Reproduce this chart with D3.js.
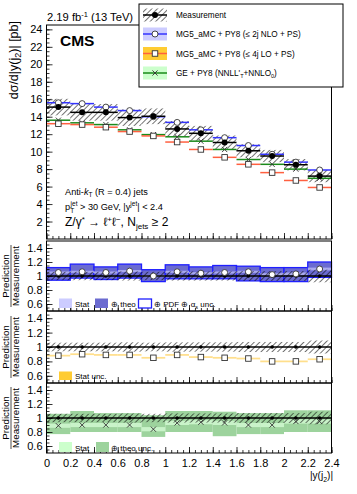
<!DOCTYPE html>
<html>
<head>
<meta charset="utf-8">
<script src="https://d3js.org/d3.v7.min.js"></script>
<style>
  body { margin:0; background:#fff; }
  text { font-family:"Liberation Sans", Arial, sans-serif; fill:#000; }
</style>
</head>
<body>
<script>

/*
	Data
 */

var binEdges = [0,0.2,0.4,0.6,0.8,1.0,1.2,1.4,1.6,1.8,2.0,2.2,2.4];

var measured    = [15.1,14.5,14.5,13.9,14.05,12.6,12.1,11.05,10.1,9.5,8.5,7.2];
var measuredErr = [0.95,0.95,0.95,0.95,0.9,0.9,0.85,0.8,0.75,0.7,0.65,0.7];
var nloMain = [15.6,15.5,15.1,14.7,14.0,13.35,12.5,11.6,10.7,9.7,8.8,7.9];
var loMain  = [13.2,13.1,12.8,12.3,11.8,11.1,10.25,9.35,8.55,7.6,6.7,5.9];
var geMain  = [13.6,13.3,13.1,12.5,11.95,11.7,11.2,10.25,9.1,8.55,8.0,6.95];

var measRatioErr = [0.06,0.06,0.06,0.065,0.06,0.065,0.065,0.065,0.07,0.07,0.07,0.09];

var nloRatio   = [1.05,1.06,1.05,1.07,1.0,1.06,1.04,1.05,1.06,1.02,1.03,1.1];
var nloRatioLo = [0.94,0.97,0.95,0.97,0.92,0.96,0.96,0.96,0.93,0.92,0.92,0.98];
var nloRatioHi = [1.12,1.17,1.13,1.17,1.09,1.16,1.13,1.15,1.14,1.12,1.12,1.2];
var nloStat    = [0.015,0.015,0.015,0.015,0.015,0.015,0.015,0.015,0.015,0.02,0.02,0.02];

var loRatio = [0.88,0.9,0.89,0.89,0.85,0.89,0.86,0.85,0.84,0.8,0.8,0.83];
var loStat  = [0.012,0.012,0.012,0.012,0.012,0.012,0.012,0.012,0.012,0.012,0.012,0.012];

var geRatio   = [0.89,0.9,0.9,0.9,0.84,0.93,0.94,0.93,0.9,0.9,0.95,0.95];
var geRatioLo = [0.77,0.8,0.8,0.8,0.73,0.8,0.8,0.74,0.77,0.77,0.8,0.8];
var geRatioHi = [1.06,1.1,1.07,1.07,1.04,1.1,1.1,1.09,1.07,1.07,1.11,1.11];
var geStat    = [0.03,0.03,0.03,0.03,0.03,0.03,0.03,0.03,0.03,0.03,0.03,0.03];

var mainTicks  = [2,4,6,8,10,12,14,16,18,20,22,24];
var ratioTicks = [0.6,0.8,1,1.2,1.4];
var xTicks     = [0,0.2,0.4,0.6,0.8,1,1.2,1.4,1.6,1.8,2,2.2,2.4];

/*
	Layout
 */

var plotLeft = 46.5, plotRight = 331.5;
var mainBox = {top:25, bottom:239};
var panelBoxes = [{top:241,bottom:311},{top:311,bottom:383},{top:383,bottom:453}];

var svg = d3.select('body').append('svg')
	.attr('width',357)
	.attr('height',494);

var defs = svg.append('defs');
defs.append('pattern')
	.attr('id','hatch')
	.attr('patternUnits','userSpaceOnUse')
	.attr('width',3.9)
	.attr('height',3.9)
	.attr('patternTransform','rotate(45)')
	.append('line')
	.attr('x1',0).attr('y1',0).attr('x2',0).attr('y2',3.9)
	.attr('stroke','#000').attr('stroke-width',1.1);

var x = d3.scaleLinear().domain([0,2.4]).range([plotLeft,plotRight]);
var yMain = d3.scaleLinear().domain([0,24.5]).range([mainBox.bottom,mainBox.top]);
var yPanels = panelBoxes.map(function(b){
	return d3.scaleLinear().domain([0.5,1.5]).range([b.bottom,b.top]);
});

var bins = d3.range(binEdges.length-1).map(function(i){
	return {i:i, x0:binEdges[i], x1:binEdges[i+1], xc:(binEdges[i]+binEdges[i+1])/2};
});

/* markers */

function markCircle(g,cx,cy,r){
	g.append('circle').attr('cx',cx).attr('cy',cy).attr('r',r)
		.attr('fill','#fff').attr('stroke','#333').attr('stroke-width',0.9);
}
function markSquare(g,cx,cy,s){
	g.append('rect').attr('x',cx-s/2).attr('y',cy-s/2).attr('width',s).attr('height',s)
		.attr('fill','#fff').attr('stroke','#333').attr('stroke-width',0.9);
}
function markX(g,cx,cy,s){
	g.append('path')
		.attr('d','M'+(cx-s)+','+(cy-s)+'L'+(cx+s)+','+(cy+s)+'M'+(cx-s)+','+(cy+s)+'L'+(cx+s)+','+(cy-s))
		.attr('stroke','#333').attr('stroke-width',0.9).attr('fill','none');
}
function markDot(g,cx,cy,r){
	g.append('circle').attr('cx',cx).attr('cy',cy).attr('r',r).attr('fill','#000');
}

/* frame + ticks */

function drawFrame(y, top, bottom, yMajor, yMinor, showXLabels){
	var g = svg.append('g');

	g.append('g').attr('transform','translate('+plotLeft+',0)')
		.call(d3.axisLeft(y).tickValues(yMinor).tickSize(-3).tickFormat(''))
		.call(function(a){ a.select('.domain').remove(); });

	g.append('g').attr('transform','translate('+plotLeft+',0)')
		.call(d3.axisLeft(y).tickValues(yMajor).tickSize(-6).tickPadding(4)
			.tickFormat(d3.format('~g')))
		.call(function(a){ a.select('.domain').remove(); });

	g.append('g').attr('transform','translate(0,'+bottom+')')
		.call(d3.axisBottom(x).tickValues(d3.range(0,2.4001,0.05)).tickSize(-3).tickFormat(''))
		.call(function(a){ a.select('.domain').remove(); });

	var xa = g.append('g').attr('transform','translate(0,'+bottom+')')
		.call(d3.axisBottom(x).tickValues(xTicks).tickSize(-6).tickPadding(5)
			.tickFormat(showXLabels ? d3.format('~g') : ''))
		.call(function(a){ a.select('.domain').remove(); });

	g.selectAll('.tick line').attr('stroke','#000').attr('stroke-width',0.8);
	g.selectAll('.tick text').attr('font-size',11).attr('font-family','"Liberation Sans", Arial, sans-serif');
	xa.selectAll('.tick text').attr('dy','0.85em');

	svg.append('rect')
		.attr('x',plotLeft).attr('y',top)
		.attr('width',plotRight-plotLeft).attr('height',bottom-top)
		.attr('fill','none').attr('stroke','#000').attr('stroke-width',1);
}

/*
	Main panel
 */

var main = svg.append('g');

main.selectAll('rect.hatch').data(bins).enter().append('rect')
	.attr('x',function(d){ return x(d.x0); })
	.attr('width',function(d){ return x(d.x1)-x(d.x0); })
	.attr('y',function(d){ return yMain(measured[d.i]+measuredErr[d.i]); })
	.attr('height',function(d){ return yMain(measured[d.i]-measuredErr[d.i])-yMain(measured[d.i]+measuredErr[d.i]); })
	.attr('fill','url(#hatch)');

function binLines(g, yScale, values, color, width){
	g.selectAll(null).data(bins).enter().append('line')
		.attr('x1',function(d){ return x(d.x0); })
		.attr('x2',function(d){ return x(d.x1); })
		.attr('y1',function(d){ return yScale(values[d.i]); })
		.attr('y2',function(d){ return yScale(values[d.i]); })
		.attr('stroke',color).attr('stroke-width',width);
}

binLines(main, yMain, geMain, '#1a8a1a', 1.5);
binLines(main, yMain, loMain, '#ff6040', 1.5);
binLines(main, yMain, nloMain, '#3333ff', 1.5);
binLines(main, yMain, measured, '#000', 1.5);

bins.forEach(function(d){
	var cx = x(d.xc);
	markX(main,cx,yMain(geMain[d.i]),2.6);
	markSquare(main,cx,yMain(loMain[d.i]),5.5);
	markCircle(main,cx,yMain(nloMain[d.i]),3);
	markDot(main,cx,yMain(measured[d.i]),3);
});

drawFrame(yMain, mainBox.top, mainBox.bottom, mainTicks, d3.range(0.5,24.5,0.5), false);

/*
	Ratio panels
 */

function measBand(g, y){
	g.selectAll(null).data(bins).enter().append('rect')
		.attr('x',function(d){ return x(d.x0); })
		.attr('width',function(d){ return x(d.x1)-x(d.x0); })
		.attr('y',function(d){ return y(1+measRatioErr[d.i]); })
		.attr('height',function(d){ return y(1-measRatioErr[d.i])-y(1+measRatioErr[d.i]); })
		.attr('fill','url(#hatch)');
}
function measLine(g, y){
	g.append('line').attr('x1',plotLeft).attr('x2',plotRight)
		.attr('y1',y(1)).attr('y2',y(1)).attr('stroke','#000').attr('stroke-width',1.3);
	bins.forEach(function(d){
		g.append('line').attr('x1',x(d.xc)).attr('x2',x(d.xc))
			.attr('y1',y(1.015)).attr('y2',y(0.985)).attr('stroke','#000').attr('stroke-width',1);
		markDot(g,x(d.xc),y(1),1.8);
	});
}
function bandRects(g, y, lo, hi, fill, stroke){
	g.selectAll(null).data(bins).enter().append('rect')
		.attr('x',function(d){ return x(d.x0); })
		.attr('width',function(d){ return x(d.x1)-x(d.x0); })
		.attr('y',function(d){ return y(hi(d.i)); })
		.attr('height',function(d){ return y(lo(d.i))-y(hi(d.i)); })
		.attr('fill',fill)
		.attr('stroke',stroke || 'none').attr('stroke-width',1.3);
}

// panel 1 : NLO
var p1 = svg.append('g'), y1 = yPanels[0];
bandRects(p1, y1, function(i){ return nloRatioLo[i]; }, function(i){ return nloRatioHi[i]; }, '#6b6bd0', '#1f1fff');
bandRects(p1, y1, function(i){ return nloRatio[i]-nloStat[i]; }, function(i){ return nloRatio[i]+nloStat[i]; }, '#a9a9ee');
measBand(p1, y1);
measLine(p1, y1);
bins.forEach(function(d){ markCircle(p1,x(d.xc),y1(nloRatio[d.i]),3); });
drawFrame(y1, panelBoxes[0].top, panelBoxes[0].bottom, ratioTicks, d3.range(0.55,1.5,0.05), false);

// panel 2 : LO
var p2 = svg.append('g'), y2 = yPanels[1];
bandRects(p2, y2, function(i){ return loRatio[i]-loStat[i]; }, function(i){ return loRatio[i]+loStat[i]; }, '#ffdf8c');
measBand(p2, y2);
measLine(p2, y2);
bins.forEach(function(d){ markSquare(p2,x(d.xc),y2(loRatio[d.i]),5.5); });
drawFrame(y2, panelBoxes[1].top, panelBoxes[1].bottom, ratioTicks, d3.range(0.55,1.5,0.05), false);

// panel 3 : GE
var p3 = svg.append('g'), y3 = yPanels[2];
bandRects(p3, y3, function(i){ return geRatioLo[i]; }, function(i){ return geRatioHi[i]; }, '#9dd39d');
bandRects(p3, y3, function(i){ return geRatio[i]-geStat[i]; }, function(i){ return geRatio[i]+geStat[i]; }, '#c9f3c9');
measBand(p3, y3);
measLine(p3, y3);
bins.forEach(function(d){ markX(p3,x(d.xc),y3(geRatio[d.i]),2.6); });
drawFrame(y3, panelBoxes[2].top, panelBoxes[2].bottom, ratioTicks, d3.range(0.55,1.5,0.05), true);

/*
	Texts
 */

svg.append('text').attr('x',47).attr('y',21).attr('font-size',11.2)
	.html('2.19 fb<tspan dy="-4.5" font-size="7.5">-1</tspan><tspan dy="4.5"> (13 TeV)</tspan>');

svg.append('text').attr('x',60).attr('y',45.5).attr('font-size',15.5).attr('font-weight','bold').text('CMS');

svg.append('text').attr('transform','translate(18,21) rotate(-90)')
	.attr('text-anchor','end').attr('font-size',12.5)
	.html('dσ/d|y(j<tspan dy="3" font-size="9">2</tspan><tspan dy="-3">)|  [pb]</tspan>');

svg.append('text').attr('x',65).attr('y',195).attr('font-size',9.2)
	.html('Anti-<tspan font-style="italic">k</tspan><tspan dy="2" font-size="6.5">T</tspan><tspan dy="-2"> (R = 0.4) jets</tspan>');
svg.append('text').attr('x',65).attr('y',210).attr('font-size',9.2)
	.html('p<tspan dy="2.5" font-size="6.5">T</tspan><tspan dy="-7" dx="-3.5" font-size="6.5">jet</tspan><tspan dy="4.5"> &gt; 30 GeV, |y</tspan><tspan dy="-4.5" font-size="6.5">jet</tspan><tspan dy="4.5">| &lt; 2.4</tspan>');
svg.append('text').attr('x',65).attr('y',226).attr('font-size',12)
	.html('Z/γ<tspan dy="-4.5" font-size="8">*</tspan><tspan dy="4.5"> → ℓ</tspan><tspan dy="-4.5" font-size="8">+</tspan><tspan dy="4.5">ℓ</tspan><tspan dy="-4.5" font-size="8">−</tspan><tspan dy="4.5">, N</tspan><tspan dy="3" font-size="8">jets</tspan><tspan dy="-3"> ≥ 2</tspan>');

// ratio y titles
panelBoxes.forEach(function(b){
	var cy = (b.top+b.bottom)/2;
	var t = svg.append('g').attr('transform','translate(11,'+cy+') rotate(-90)');
	t.append('text').attr('y',-2.3).attr('text-anchor','middle').attr('font-size',9.8).text('Prediction');
	t.append('line').attr('x1',-31).attr('x2',31).attr('y1',0).attr('y2',0).attr('stroke','#000').attr('stroke-width',0.7);
	t.append('text').attr('y',8.3).attr('text-anchor','middle').attr('font-size',9.8).text('Measurement');
});

svg.append('text').attr('x',333).attr('y',479).attr('text-anchor','end').attr('font-size',10)
	.html('|y(j<tspan dy="2.5" font-size="7">2</tspan><tspan dy="-2.5">)|</tspan>');

/*
	Main legend
 */

var legend = svg.append('g');
legend.append('rect').attr('x',139).attr('y',4).attr('width',204).attr('height',83)
	.attr('fill','#fff').attr('stroke','#000').attr('stroke-width',1);

var legRows = [
	{y:15, fill:'url(#hatch)', line:'#000', mark:'dot', label:'Measurement'},
	{y:34, fill:'#ccccff', line:'#3333ff', mark:'circle', label:'MG5_aMC + PY8 (≤ 2j NLO + PS)'},
	{y:53.5, fill:'#ffcc33', line:'#ff6040', mark:'square', label:'MG5_aMC + PY8 (≤ 4j LO + PS)'},
	{y:73, fill:'#ccffcc', line:'#1a8a1a', mark:'x', label:null}
];
legRows.forEach(function(r){
	legend.append('rect').attr('x',143).attr('y',r.y-6.5).attr('width',24).attr('height',13).attr('fill',r.fill);
	legend.append('line').attr('x1',143).attr('x2',167).attr('y1',r.y).attr('y2',r.y)
		.attr('stroke',r.line).attr('stroke-width',1.5);
	if(r.mark==='dot') markDot(legend,155,r.y,3);
	if(r.mark==='circle') markCircle(legend,155,r.y,3);
	if(r.mark==='square') markSquare(legend,155,r.y,5.5);
	if(r.mark==='x') markX(legend,155,r.y,2.6);
	if(r.label) legend.append('text').attr('x',176).attr('y',r.y+3).attr('font-size',8.2).text(r.label);
});
legend.append('text').attr('x',176).attr('y',73+3).attr('font-size',8.2)
	.html('GE + PY8 (NNLL\'<tspan dy="2" font-size="5.5">T</tspan><tspan dy="-2">+NNLO</tspan><tspan dy="2" font-size="5.5">0</tspan><tspan dy="-2">)</tspan>');

/*
	Panel legends
 */

function legBox(bx, by, h, fill, stroke){
	svg.append('rect').attr('x',bx).attr('y',by).attr('width',13).attr('height',h)
		.attr('fill',fill).attr('stroke',stroke || 'none').attr('stroke-width',1.3);
}
function legText(tx, ty, html){
	svg.append('text').attr('x',tx).attr('y',ty).attr('font-size',8).html(html);
}

legBox(59,298.5,9.5,'#ccccff');
legText(75,306.5,'Stat');
legBox(95,298.5,9.5,'#6b6bd0');
legText(111,306.5,'⊕ theo');
legBox(138.5,299,9,'#fff','#1f1fff');
legText(154,306.5,'⊕ PDF ⊕ α<tspan dy="2" font-size="5.5">s</tspan><tspan dy="-2"> unc.</tspan>');

legBox(59,371.5,8.5,'#ffcc33');
legText(75,379,'Stat unc.');

legBox(59,442,10,'#ccffcc');
legText(75,450.5,'Stat');
legBox(96,442,10,'#9dd39d');
legText(111,450.5,'⊕ theo unc.');

</script>
</body>
</html>
